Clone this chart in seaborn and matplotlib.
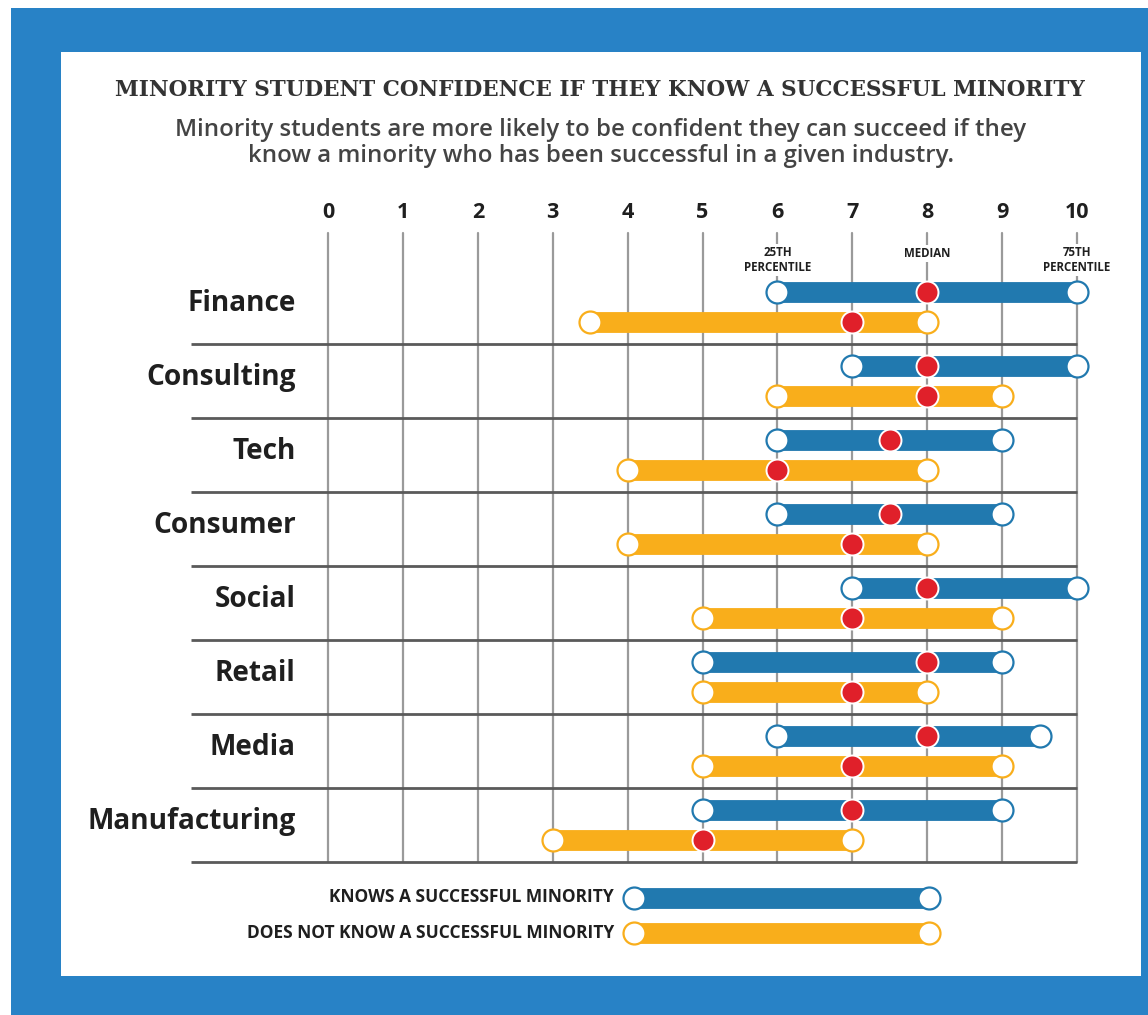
import numpy as np
import pandas as pd
import matplotlib
matplotlib.use("Agg")
from matplotlib import pyplot as plt
from matplotlib.patches import Rectangle
import seaborn as sns

# --- data ------------------------------------------------------------------
industries = ['Finance', 'Consulting', 'Tech', 'Consumer', 'Social',
              'Retail', 'Media', 'Manufacturing']
knows_p25 = [6, 7, 6, 6, 7, 5, 6, 5]
knows_median = [8, 8, 7.5, 7.5, 8, 8, 8, 7]
knows_p75 = [10, 10, 9, 9, 10, 9, 9.5, 9]
notknow_p25 = [3.5, 6, 4, 4, 5, 5, 5, 3]
notknow_median = [7, 8, 6, 7, 7, 7, 7, 5]
notknow_p75 = [8, 9, 8, 8, 9, 8, 9, 7]
x_ticks = list(range(11))
series_names = ['KNOWS A SUCCESSFUL MINORITY', 'DOES NOT KNOW A SUCCESSFUL MINORITY']

BLUE = '#2179af'
ORANGE = '#f9ae1b'
RED = '#e0202a'
FRAME = '#2882c6'
INK = '#1f1f1f'

sns.set_theme(style='white')
plt.rcParams['font.family'] = ['Open Sans', 'DejaVu Sans']

rows = np.arange(len(industries))
df = pd.concat([
    pd.DataFrame({'industry': industries, 'row': rows - 0.2, 'p25': knows_p25,
                  'median': knows_median, 'p75': knows_p75, 'group': 'knows'}),
    pd.DataFrame({'industry': industries, 'row': rows + 0.2, 'p25': notknow_p25,
                  'median': notknow_median, 'p75': notknow_p75, 'group': 'not'}),
], ignore_index=True)
colors = {'knows': BLUE, 'not': ORANGE}

W, H = 1148, 1015
fig = plt.figure(figsize=(W / 100, H / 100), dpi=100)
fig.patch.set_facecolor('white')
# blue frame + white card
fig.patches.append(Rectangle((11 / W, 0), 1 - 11 / W, 1 - 8 / H, transform=fig.transFigure,
                             facecolor=FRAME, edgecolor='none', zorder=-2))
fig.patches.append(Rectangle((61 / W, 1 - 976 / H), (1141 - 61) / W, (976 - 52) / H,
                             transform=fig.transFigure, facecolor='white', edgecolor='none', zorder=-1))

ax = fig.add_axes([328 / W, 1 - 862 / H, (1077 - 328) / W, (862 - 233) / H])
ax.set_zorder(2)
ax.set_facecolor('none')
ax.set_xlim(0, 10)
ax.set_ylim(7.5, -1.0)
sns.despine(ax=ax, left=True, bottom=True, top=True, right=True)

# vertical grid
for xv in x_ticks:
    ax.axvline(xv, color='#9a9a9a', lw=1.6, zorder=1, clip_on=False)
# row separators
ax.hlines(rows + 0.5, -1.83, 10, color='#5a5a5a', lw=2, clip_on=False, zorder=1)

# bars
for g, sub in df.groupby('group'):
    ax.hlines(sub['row'], sub['p25'], sub['p75'], color=colors[g], lw=15,
              capstyle='butt', zorder=2)
    ends = pd.concat([sub[['p25', 'row']].rename(columns={'p25': 'x'}),
                      sub[['p75', 'row']].rename(columns={'p75': 'x'})])
    sns.scatterplot(data=ends, x='x', y='row', ax=ax, color='white', edgecolor=colors[g],
                    linewidth=1.6, s=250, zorder=4, clip_on=False, legend=False)
sns.scatterplot(data=df, x='median', y='row', ax=ax, color=RED, edgecolor='white',
                linewidth=1.4, s=250, zorder=5, clip_on=False, legend=False)

ax.set_xlabel('')
ax.set_ylabel('')
ax.set_yticks([])
ax.xaxis.tick_top()
ax.set_xticks(x_ticks)
ax.set_xticklabels([str(t) for t in x_ticks], fontsize=15.5, fontweight='bold', color=INK)
ax.tick_params(axis='x', length=0, pad=7)

for i, name in enumerate(industries):
    ax.text(-0.43, i - 0.05, name, ha='right', va='center', fontsize=20.2,
            fontweight='bold', color=INK)

box = dict(facecolor='white', edgecolor='none', pad=1.5)
ax.text(6, -0.63, '25TH\nPERCENTILE', ha='center', va='center', fontsize=8.3,
        fontweight='bold', color=INK, bbox=box, zorder=3, linespacing=1.2)
ax.text(8, -0.72, 'MEDIAN', ha='center', va='center', fontsize=8.3,
        fontweight='bold', color=INK, bbox=box, zorder=3)
ax.text(10, -0.63, '75TH\nPERCENTILE', ha='center', va='center', fontsize=8.3,
        fontweight='bold', color=INK, bbox=box, zorder=3, linespacing=1.2)

# legend
lax = fig.add_axes([328 / W, 1 - 950 / H, (1077 - 328) / W, 70 / H])
lax.set_zorder(2)
lax.set_xlim(0, 10)
lax.set_ylim(1.5, -0.5)
lax.axis('off')
for j, (name, c) in enumerate(zip(series_names, [BLUE, ORANGE])):
    lax.hlines(j, 4.08, 8.03, color=c, lw=15, capstyle='butt', zorder=2)
    sns.scatterplot(x=[4.08, 8.03], y=[j, j], ax=lax, color='white', edgecolor=c,
                    linewidth=1.6, s=250, zorder=4, clip_on=False, legend=False)
    lax.text(3.82, j, name, ha='right', va='center', fontsize=12.5,
             fontweight='bold', color=INK)

fig.text(600 / W, 1 - 90 / H, 'MINORITY STUDENT CONFIDENCE IF THEY KNOW A SUCCESSFUL MINORITY',
         ha='center', va='center', fontsize=15.5, fontweight='heavy', color='#333333',
         family=['DejaVu Serif'])
fig.text(601 / W, 1 - 143 / H,
         'Minority students are more likely to be confident they can succeed if they\n'
         'know a minority who has been successful in a given industry.',
         ha='center', va='center', fontsize=17.3, fontweight='semibold', color='#444444',
         linespacing=1.1)

fig.savefig('out.png', dpi=100, facecolor=fig.get_facecolor())
